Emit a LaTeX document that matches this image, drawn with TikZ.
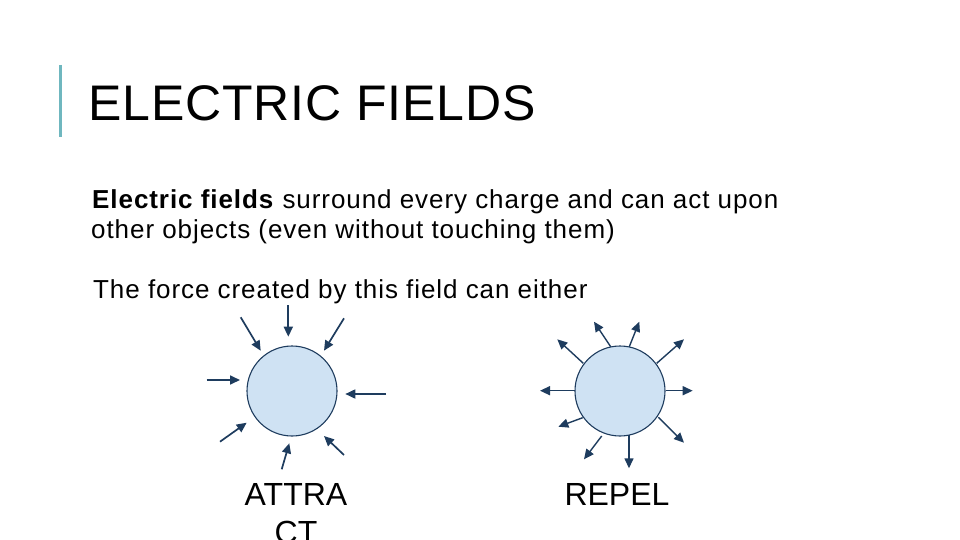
\documentclass[tikz,border=0pt]{standalone}
\usepackage{fontspec}
\setmainfont{Liberation Sans}
\usepackage{tikz}
\usetikzlibrary{arrows.meta, calc}

\definecolor{barteal}{HTML}{6FB7BF}
\definecolor{chargefill}{HTML}{CFE2F3}
\definecolor{fieldnavy}{HTML}{1E3C5E}

\begin{document}
\begin{tikzpicture}[x=1pt,y=-1pt,
  charge/.style={circle,draw=fieldnavy,line width=1.1pt,fill=chargefill,minimum size=90pt,inner sep=0pt},
  fieldarrow/.style={draw=fieldnavy,line width=1.7pt,-{Triangle[length=10pt,width=9pt]}},
  bodytext/.style={anchor=base west,inner sep=0pt,font=\fontsize{26}{31}\selectfont\addfontfeature{LetterSpace=3.6}},
  lbl/.style={anchor=north,inner sep=0pt,align=center,font=\fontsize{32}{38}\selectfont}]
  \useasboundingbox (0,0) rectangle (960,540);
  % title
  \draw[barteal,line width=3pt](60,65)--(60,137);
  \node (title)[anchor=base west,inner sep=0pt,font=\fontsize{50}{60}\selectfont\addfontfeature{LetterSpace=1.7}] at (88,121) {ELECTRIC FIELDS};
  % text
  \node (line1)[bodytext] at (92,208) {\textbf{Electric fields} surround every charge and can act upon};
  \node (line2)[bodytext] at (91,238) {other objects (even without touching them)};
  \node (line3)[bodytext] at (93,298) {The force created by this field can either};
  % charges
  \node (att)[charge] at (292,391) {};
  \node (rep)[charge] at (620,391) {};
  \foreach \sx/\sy/\ex/\ey in {-3.7/-86/-3.7/-54.3, -51.3/-73.7/-31.3/-40.3, 52/-72.7/32/-40.3,
      -85.3/-11/-52/-11, 94/3/53.3/3, -72/50.7/-45.3/31.7, -10.3/78.3/-2.7/52.3, 52/64/32/45}{
    \draw[fieldarrow] ($(att)+(\sx,\sy)$) -- ($(att)+(\ex,\ey)$);}
  \foreach \sx/\sy/\ex/\ey in {-9.3/-44.3/-26/-69.3, 9.3/-44.3/19.3/-69.3, -36.7/-27.7/-62.7/-51.7,
      36.7/-27.7/64/-51.7, -45/-0.3/-80/-0.3, 46/-0.3/72.7/-0.3, -37.3/26.7/-61.7/35.7,
      -18.3/45/-36/68.3, 9/44/9/77.3, 38.3/26.3/64/51.7}{
    \draw[fieldarrow,line width=1.4pt] ($(rep)+(\sx,\sy)$) -- ($(rep)+(\ex,\ey)$);}
  % labels
  \node (attlbl)[lbl] at (296,483) {ATTRA\\CT};
  \node (replbl)[lbl] at (617,483) {REPEL};
\end{tikzpicture}
\end{document}
